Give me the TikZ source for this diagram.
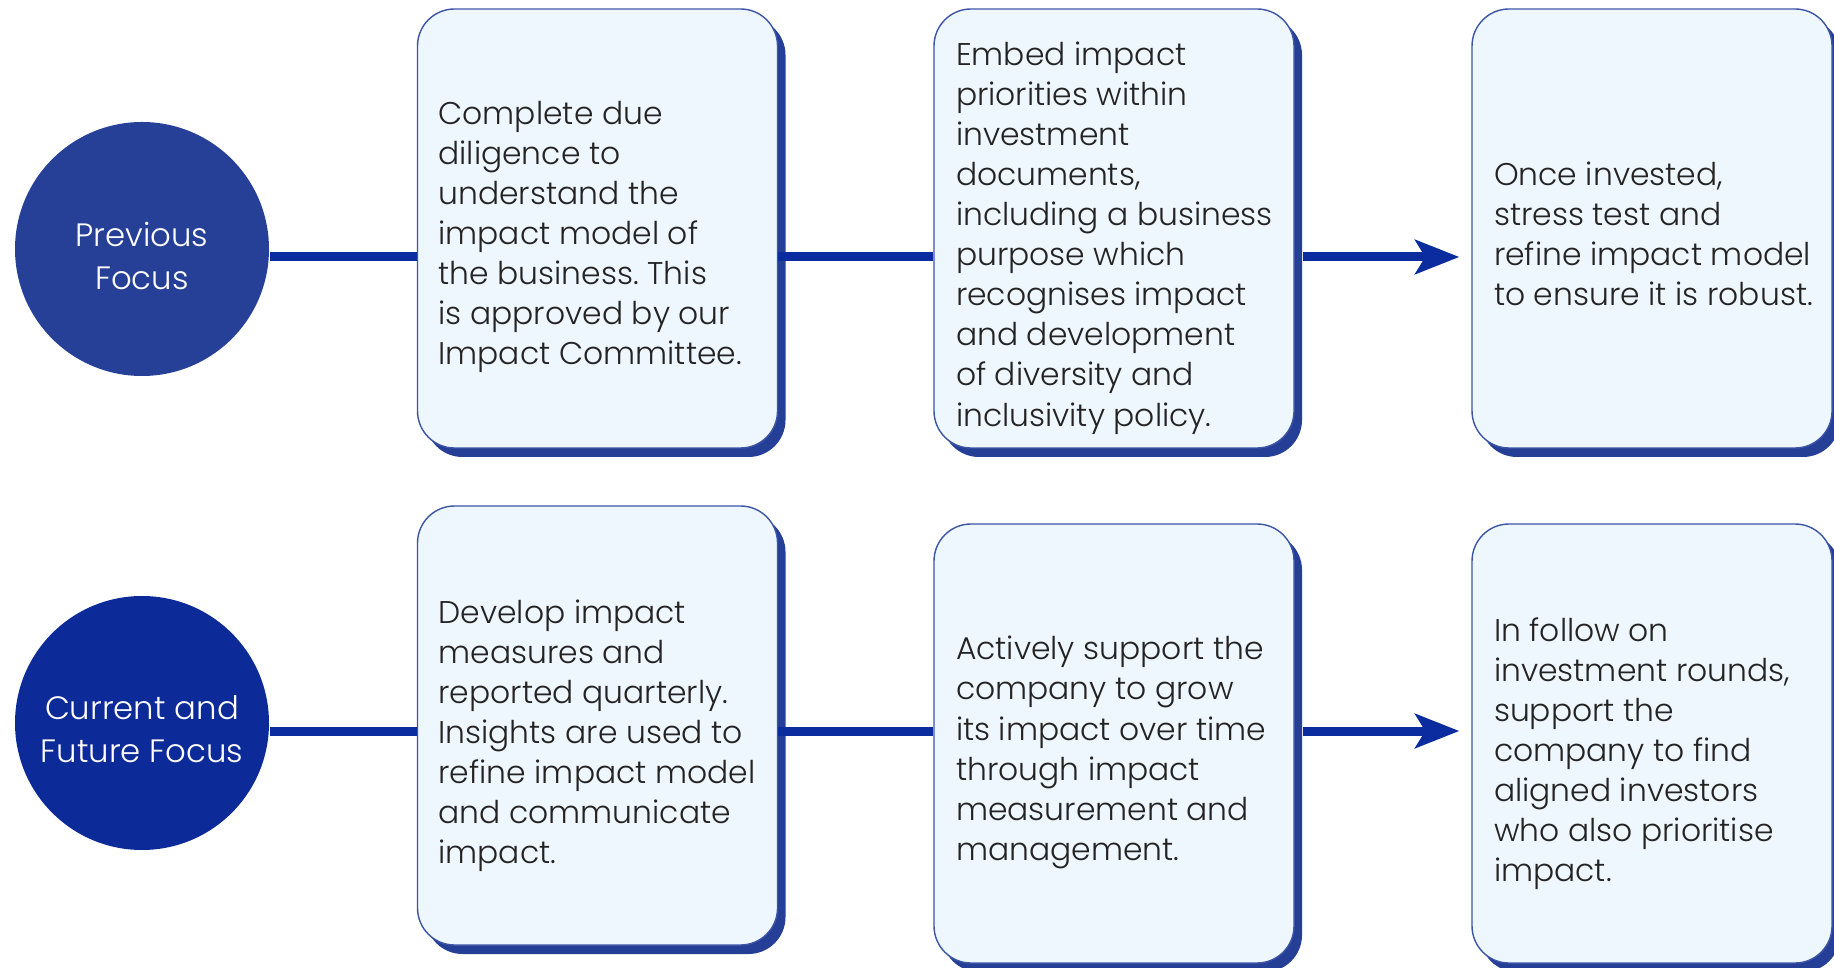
\documentclass[tikz,border=0pt]{standalone}
\usepackage{fontspec}
\setmainfont{Poppins Light}
\frenchspacing
\usetikzlibrary{positioning,shadows,arrows.meta}

\definecolor{focusblue}{RGB}{37,64,150}
\definecolor{futureblue}{RGB}{12,42,152}
\definecolor{lineblue}{RGB}{10,44,158}
\definecolor{shadeblue}{RGB}{37,63,150}
\definecolor{boxfill}{RGB}{239,247,254}
\definecolor{boxline}{RGB}{60,85,165}
\definecolor{inktext}{RGB}{35,35,35}

\tikzset{
  focus/.style={circle, minimum size=2.54cm, inner sep=0pt},
  focustext/.style={text=white, align=center, inner sep=0pt,
    font=\fontsize{9.2pt}{12.3pt}\selectfont},
  stage/.style={draw=boxline, line width=0.4pt, fill=boxfill,
    rounded corners=0.37cm, minimum width=3.6cm, minimum height=4.39cm,
    inner sep=0pt,
    drop shadow={shadow xshift=0.08cm, shadow yshift=-0.09cm,
      fill=shadeblue, opacity=1}},
  stagetext/.style={align=left, inner sep=0pt, text=inktext,
    font=\fontsize{8.93pt}{11.4pt}\selectfont},
  link/.style={draw=lineblue, line width=0.09cm},
  arrowlink/.style={link, -{Stealth[length=0.44cm, width=0.34cm, inset=0.1cm]}}
}

\begin{document}
\begin{tikzpicture}

    \useasboundingbox (0,0) rectangle (18.34,-9.68);
    \clip (0,0) rectangle (18.34,-9.68);

    % heights of the two rows of links
    \coordinate (row1) at (0,-2.57);
    \coordinate (row2) at (0,-7.31);

    \node[focus, fill=focusblue] (prev) at (1.42,-2.49) {};
    \node[focus, fill=futureblue] (curr) at (1.42,-7.23) {};
    \node[focustext, below=0.07cm of prev.center, anchor=center] (prevtext) {Previous\\Focus};
    \node[focustext, below=0.06cm of curr.center, anchor=center] (currtext) {Current and\\Future Focus};

    % top row
    \node[stage] (due) at (5.975,-2.285) {};
    \node[stage] (embed) at (11.14,-2.285) {};
    \node[stage] (stress) at (16.52,-2.285) {};

    % bottom row
    \node[stage] (measure) at (5.975,-7.255) {};
    \node[stage] (support) at (11.14,-7.435) {};
    \node[stage] (follow) at (16.52,-7.435) {};

    \node[stagetext, right=0.21cm of due.west, yshift=-0.085cm] (duetext)
        {Complete due\\ diligence to\\ understand the\\ impact model of\\
         the business. This\\ is approved by our\\ Impact Committee.};
    \node[stagetext, right=0.22cm of embed.west, yshift=-0.095cm] (embedtext)
        {Embed impact\\ priorities within\\ investment\\ documents,\\
         including a business\\ purpose which\\ recognises impact\\
         and development\\ of diversity and\\ inclusivity policy.};
    \node[stagetext, right=0.22cm of stress.west, yshift=-0.05cm] (stresstext)
        {Once invested,\\ stress test and\\ refine impact model\\
         to ensure it is robust.};

    \node[stagetext, right=0.21cm of measure.west, yshift=-0.105cm] (measuretext)
        {Develop impact\\ measures and\\ reported quarterly.\\
         Insights are used to\\ refine impact model\\ and communicate\\ impact.};
    \node[stagetext, right=0.22cm of support.west, yshift=-0.09cm] (supporttext)
        {Actively support the\\ company to grow\\ its impact over time\\
         through impact\\ measurement and\\ management.};
    \node[stagetext, right=0.22cm of follow.west, yshift=-0.10cm] (followtext)
        {In follow on\\ investment rounds,\\ support the\\ company to find\\
         aligned investors\\ who also prioritise\\ impact.};

    \draw[link] (prev.east |- row1) -- (due.west |- row1);
    \draw[link] (due.east |- row1) -- (embed.west |- row1);
    \draw[arrowlink] ([xshift=0.08cm]embed.east |- row1) -- ([xshift=-0.12cm]stress.west |- row1);

    \draw[link] (curr.east |- row2) -- (measure.west |- row2);
    \draw[link] (measure.east |- row2) -- (support.west |- row2);
    \draw[arrowlink] ([xshift=0.08cm]support.east |- row2) -- ([xshift=-0.12cm]follow.west |- row2);

\end{tikzpicture}
\end{document}
